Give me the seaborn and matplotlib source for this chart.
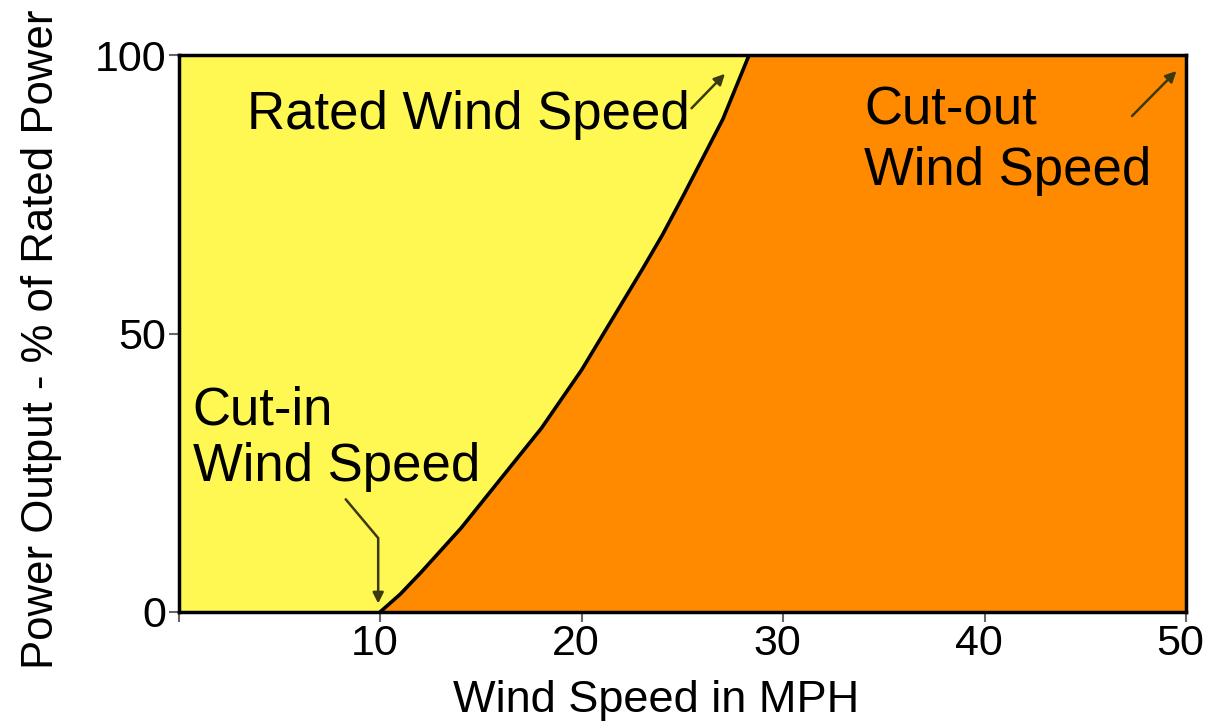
import numpy as np
import pandas as pd
import matplotlib
matplotlib.use("Agg")
import matplotlib.pyplot as plt
import matplotlib.transforms as mtransforms
import seaborn as sns

# Power curve (wind speed in MPH, % of rated power)
wind_speed = [10, 11, 12, 14, 16, 18, 20, 21, 22, 23, 24, 25, 26, 27, 28.3, 50]
power_pct = [0, 3.2, 7, 15, 24, 33, 43.5, 49.5, 55.5, 61.5, 67.7, 74.5, 81.5, 88.5, 100, 100]

x_ticks = [0, 10, 20, 30, 40, 50]
x_tick_labels = ["", "10", "20", "30", "40", "50"]
y_ticks = [0, 50, 100]

yellow = "#FFF852"
orange = "#FF8A00"

sns.set_theme(style="white")
plt.rcParams["font.family"] = ["Liberation Sans", "DejaVu Sans"]
plt.rcParams["text.color"] = "black"

df = pd.DataFrame({"speed": wind_speed, "power": power_pct})

fig = plt.figure(figsize=(12.07, 7.25), dpi=100)
ax = fig.add_axes([0.148, 0.156, 0.835, 0.768])
ax.set_facecolor(yellow)

ax.fill_between(df["speed"], 0, df["power"], color=orange, zorder=1)
sns.lineplot(data=df, x="speed", y="power", color="black", linewidth=2.6, ax=ax,
             zorder=2, solid_joinstyle="round")

ax.set_xlim(0, 50)
ax.set_ylim(0, 100)
ax.set_xticks(x_ticks)
ax.set_xticklabels(x_tick_labels)
ax.set_yticks(y_ticks)
ax.tick_params(axis="both", direction="out", length=7, width=1.5, color="#666666",
               labelsize=31, labelcolor="black", bottom=True, left=True)
ax.tick_params(axis="x", pad=2)
ax.tick_params(axis="y", pad=2)

# labels in the original sit a little left of their ticks
shift = mtransforms.ScaledTranslation(-6 / 100, 0, fig.dpi_scale_trans)
for lab in ax.get_xticklabels():
    lab.set_transform(lab.get_transform() + shift)

for side in ["top", "bottom", "left", "right"]:
    ax.spines[side].set_visible(True)
    ax.spines[side].set_color("black")
    ax.spines[side].set_linewidth(2.5)

ax.set_xlabel("Wind Speed in MPH", fontsize=32.5, color="black")
ax.set_ylabel("Power Output - % of Rated Power", fontsize=31.5, color="black")
ax.xaxis.set_label_coords(0.474, -0.122)
ax.yaxis.set_label_coords(-0.116, 0.49)

arrow_kw = dict(arrowstyle="-|>", color="#3a3a10", lw=1.8, mutation_scale=16)

ax.text(3.4, 89.2, "Rated Wind Speed", fontsize=38, ha="left", va="center", zorder=3)
ax.annotate("", xy=(27.2, 97.0), xytext=(25.35, 90.1), arrowprops=arrow_kw, zorder=3)

ax.text(34.0, 84.6, "Cut-out\nWind Speed", fontsize=38, ha="left", va="center",
        linespacing=1.25, zorder=3)
ax.annotate("", xy=(49.6, 97.5), xytext=(47.2, 88.7), arrowprops=arrow_kw, zorder=3)

ax.text(0.7, 31.1, "Cut-in\nWind Speed", fontsize=38, ha="left", va="center",
        linespacing=1.18, zorder=3)
ax.annotate("", xy=(9.9, 1.0), xytext=(8.2, 20.6),
            arrowprops=dict(arrowstyle="-|>", color="#3a3a10", lw=1.8, mutation_scale=16,
                            connectionstyle="angle,angleA=-50,angleB=90,rad=0"), zorder=3)

fig.savefig("out.png", dpi=100)
